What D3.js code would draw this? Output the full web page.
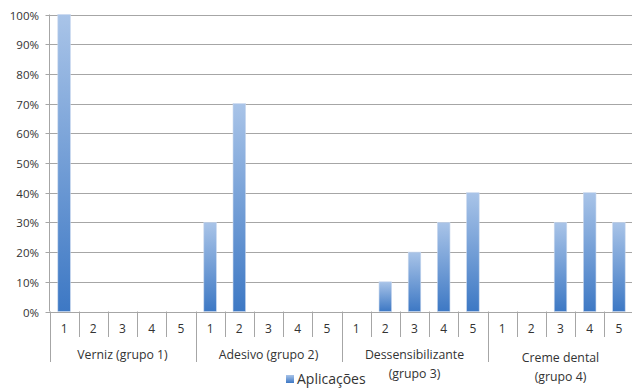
<!DOCTYPE html>
<html><head><meta charset="utf-8">
<script src="https://cdn.jsdelivr.net/npm/d3@7"></script>
<style>
html,body{margin:0;padding:0;background:#fff;}
svg{display:block;font-family:"Open Sans",sans-serif;}
</style></head>
<body><svg id="c" width="632" height="388"></svg>
<script>
const groups = ["Verniz (grupo 1)", "Adesivo (grupo 2)", "Dessensibilizante\n(grupo 3)", "Creme dental\n(grupo 4)"];
const subLabels = ["1","2","3","4","5"];
const values = [
  [100, 0, 0, 0, 0],
  [30, 70, 0, 0, 0],
  [0, 10, 20, 30, 40],
  [0, 0, 30, 40, 30]
];
const yTicks = [0,10,20,30,40,50,60,70,80,90,100];
const seriesName = "Aplicações";

(function(){
const svg = d3.select("#c");
const pL = 49.5, pR = 633.5, pT = 14.5, pB = 311.5;
const keys = [];
groups.forEach((g,gi)=>subLabels.forEach(s=>keys.push(gi+"-"+s)));
const x = d3.scaleBand().domain(keys).range([pL,pR]).paddingInner(0).paddingOuter(0);
const y = d3.scaleLinear().domain([0,100]).range([pB,pT]);

const defs = svg.append("defs");
const grad = defs.append("linearGradient").attr("id","bg").attr("x1",0).attr("y1",0).attr("x2",0).attr("y2",1);
grad.append("stop").attr("offset","0%").attr("stop-color","#a9c4e8");
grad.append("stop").attr("offset","100%").attr("stop-color","#3d78c4");

const gridCol = "#a6a6a6", txtCol = "#333333";
svg.append("g").selectAll("line").data(yTicks).join("line")
  .attr("x1",pL-4).attr("x2",632).attr("y1",d=>Math.round(y(d))+0.5).attr("y2",d=>Math.round(y(d))+0.5)
  .attr("stroke",gridCol).attr("stroke-width",1);
svg.append("g").selectAll("text").data(yTicks).join("text")
  .attr("x",39).attr("y",d=>Math.round(y(d))+0.5).attr("dy","0.35em")
  .attr("text-anchor","end").attr("font-size",11.5).attr("fill",txtCol)
  .text(d=>d+"%");
svg.append("line").attr("x1",pL).attr("x2",pL).attr("y1",pT).attr("y2",pB)
  .attr("stroke",gridCol);

const flat = [];
values.forEach((arr,gi)=>arr.forEach((v,si)=>flat.push({k:gi+"-"+subLabels[si],v})));
const bw = x.bandwidth()*0.43;
svg.append("g").selectAll("rect").data(flat.filter(d=>d.v>0)).join("rect")
  .attr("x",d=>x(d.k)+(x.bandwidth()-bw)/2).attr("width",bw)
  .attr("y",d=>y(d.v)).attr("height",d=>y(0)-y(d.v))
  .attr("fill","url(#bg)").attr("stroke","#c9d8ee").attr("stroke-width",0.6);

const sep = svg.append("g");
keys.forEach((k,i)=>{
  const xx = Math.round(x(k))+0.5;
  const isGroup = i%5===0;
  sep.append("line").attr("x1",xx).attr("x2",xx).attr("y1",pB).attr("y2",isGroup?362:337)
    .attr("stroke",gridCol);
});
svg.append("g").selectAll("text").data(keys).join("text")
  .attr("x",d=>x(d)+x.bandwidth()/2).attr("y",329).attr("dy","0.35em")
  .attr("text-anchor","middle").attr("font-size",12).attr("fill",txtCol)
  .text(d=>d.split("-")[1]);
groups.forEach((g,gi)=>{
  const cx = x(gi+"-1") + x.bandwidth()*2.5;
  const lines = g.split("\n");
  const t = svg.append("text").attr("text-anchor","middle").attr("font-size",12.3).attr("fill",txtCol);
  const y0 = gi===3 ? 358 : 355;
  lines.forEach((ln,li)=>{
    t.append("tspan").attr("x",cx).attr("y",y0+li*19).attr("dy","0.35em").text(ln);
  });
});
const lg = svg.append("g");
lg.append("rect").attr("x",286).attr("y",375).attr("width",8).attr("height",8).attr("fill","url(#bg)");
lg.append("text").attr("x",297).attr("y",379).attr("dy","0.35em").attr("font-size",14).attr("fill",txtCol).text(seriesName);
})();
</script></body></html>
